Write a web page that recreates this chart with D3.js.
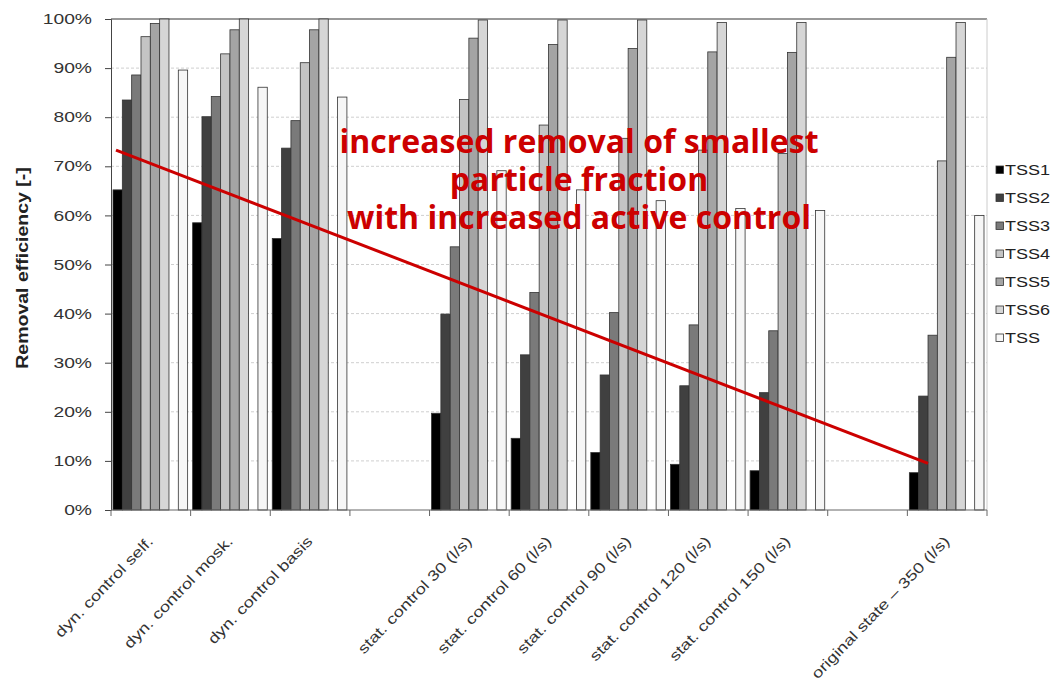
<!DOCTYPE html>
<html>
<head>
<meta charset="utf-8">
<script src="https://cdn.jsdelivr.net/npm/d3@7"></script>
<style>
  body { margin: 0; background: #fff; }
</style>
</head>
<body>
<div id="chart"></div>
<script>
// categories (two empty slots keep the gaps between the groups)
const categories = ['dyn. control self.', 'dyn. control mosk.', 'dyn. control basis', ' ',
  'stat. control 30 (l/s)', 'stat. control 60 (l/s)', 'stat. control 90 (l/s)',
  'stat. control 120 (l/s)', 'stat. control 150 (l/s)', '  ', 'original state \u2013 350 (l/s)'];
const series = ['TSS1', 'TSS2', 'TSS3', 'TSS4', 'TSS5', 'TSS6', 'TSS'];
const seriesColors = ['#000000', '#404040', '#7a7a7a', '#c4c4c4', '#a4a4a4', '#d6d6d6', '#f6f6f6'];
// values in %, one row per category, columns follow `series`
const values = [
  [65.2, 83.5, 88.6, 96.4, 99.1, 100, 89.6],
  [58.5, 80.1, 84.2, 92.9, 97.8, 100, 86.1],
  [55.3, 73.7, 79.3, 91.1, 97.8, 100, 84.1],
  null,
  [19.7, 39.9, 53.6, 83.6, 96.1, 99.8, 69.1],
  [14.6, 31.6, 44.3, 78.4, 94.8, 99.8, 65.2],
  [11.7, 27.5, 40.2, 75.7, 94.0, 99.8, 63.0],
  [9.3, 25.3, 37.7, 73.3, 93.3, 99.3, 61.4],
  [8.0, 23.9, 36.5, 72.6, 93.2, 99.3, 61.0],
  null,
  [7.6, 23.2, 35.6, 71.1, 92.2, 99.3, 60.0]
];
const yTicks = [0, 10, 20, 30, 40, 50, 60, 70, 80, 90, 100];
// trend annotation: [category, value %]
const trendStart = ['dyn. control self.', 73.3];
const trendEnd = ['original state \u2013 350 (l/s)', 9.5];
const noteLines = ['increased removal of smallest', 'particle fraction', 'with increased active control'];

const W = 1055, H = 684;
const margin = { top: 19, right: 68, bottom: 174, left: 111 };
const iw = W - margin.left - margin.right;
const ih = H - margin.top - margin.bottom;
const SANS = '"Liberation Sans", Arial, sans-serif';
const STRETCH = 1.33; // the original lettering is drawn wide

const svg = d3.select('#chart').append('svg')
  .attr('width', W).attr('height', H)
  .attr('font-family', SANS);
const g = svg.append('g').attr('transform', `translate(${margin.left},${margin.top})`);

const x0 = d3.scaleBand().domain(categories).range([0, iw]).padding(0);
// 8 slots per group, the 7th is left empty as in the original
const x1 = d3.scaleBand().domain(['TSS1', 'TSS2', 'TSS3', 'TSS4', 'TSS5', 'TSS6', 'gap', 'TSS'])
  .range([2, x0.bandwidth() - 3]).padding(0);
const y = d3.scaleLinear().domain([0, 100]).range([ih, 0]);
const color = d3.scaleOrdinal().domain(series).range(seriesColors);

// grid
g.append('g').selectAll('line')
  .data(yTicks.filter(t => t > 0 && t < 100))
  .enter().append('line')
    .attr('x1', 0).attr('x2', iw)
    .attr('y1', d => y(d)).attr('y2', d => y(d))
    .attr('stroke', '#cfcfcf')
    .attr('stroke-dasharray', '3,2');
g.append('line')
  .attr('x1', 0).attr('x2', iw).attr('y1', y(100)).attr('y2', y(100))
  .attr('stroke', '#777').attr('stroke-width', 1.5);
g.append('line')
  .attr('x1', iw).attr('x2', iw).attr('y1', 0).attr('y2', ih)
  .attr('stroke', '#ccc');

// bars
const rows = categories.map((c, i) => ({ cat: c, vals: values[i] })).filter(d => d.vals);
g.append('g').selectAll('g')
  .data(rows)
  .enter().append('g')
    .attr('transform', d => `translate(${x0(d.cat)},0)`)
  .selectAll('rect')
  .data(d => d.vals.map((v, i) => ({ key: series[i], v })))
  .enter().append('rect')
    .attr('x', d => x1(d.key))
    .attr('y', d => y(d.v))
    .attr('width', x1.bandwidth())
    .attr('height', d => ih - y(d.v))
    .attr('fill', d => color(d.key))
    .attr('stroke', '#333')
    .attr('stroke-width', 0.8);

// y axis
const yAxis = g.append('g')
  .call(d3.axisLeft(y).tickValues(yTicks).tickFormat(d => d + '%').tickSizeOuter(0).tickSize(6));
yAxis.select('.domain').attr('stroke', '#444');
yAxis.selectAll('.tick line').attr('stroke', '#444');
yAxis.selectAll('text')
  .attr('x', null)
  .attr('transform', `translate(-19,0) scale(${STRETCH},1)`)
  .attr('font-size', 14.5)
  .attr('fill', '#333')
  .attr('font-family', SANS);

// x axis: ticks at category boundaries
const xAxis = g.append('g').attr('transform', `translate(0,${ih})`);
xAxis.append('line').attr('x1', 0).attr('x2', iw).attr('stroke', '#666');
xAxis.selectAll('line.tk')
  .data(categories.map(c => x0(c)).concat([iw]))
  .enter().append('line')
    .attr('class', 'tk')
    .attr('x1', d => d).attr('x2', d => d)
    .attr('y1', 0).attr('y2', 6)
    .attr('stroke', '#666');
xAxis.selectAll('text')
  .data(categories.filter(c => c.trim()))
  .enter().append('text')
    .attr('transform', d => `translate(${x0(d) + x0.bandwidth() / 2 - 4},${25}) rotate(-46) scale(1.27,1)`)
    .attr('text-anchor', 'end')
    .attr('dy', '0.7em')
    .attr('font-size', 14.5)
    .attr('fill', '#333')
    .text(d => d);

// y title
svg.append('text')
  .attr('transform', `translate(28,268) rotate(-90) scale(1.22,1)`)
  .attr('text-anchor', 'middle')
  .attr('font-size', 16)
  .attr('font-weight', 'bold')
  .attr('fill', '#222')
  .text('Removal efficiency [-]');

// legend
const legend = svg.append('g').attr('transform', 'translate(996,170)');
legend.selectAll('g')
  .data(series)
  .enter().append('g')
    .attr('transform', (d, i) => `translate(0,${i * 28})`)
    .call(s => {
      s.append('rect')
        .attr('x', 0).attr('y', -4).attr('width', 7.5).attr('height', 7.5)
        .attr('fill', d => color(d))
        .attr('stroke', '#333').attr('stroke-width', 0.8);
      s.append('text')
        .attr('transform', 'translate(9,0) scale(1.2,1)')
        .attr('dy', '0.36em')
        .attr('font-size', 15)
        .attr('fill', '#222')
        .text(d => d);
    });

// red trend annotation
g.append('line')
  .attr('x1', x0(trendStart[0]) + 5)
  .attr('y1', y(trendStart[1]))
  .attr('x2', x0(trendEnd[0]) + x1('TSS2') + x1.bandwidth())
  .attr('y2', y(trendEnd[1]))
  .attr('stroke', '#cc0000')
  .attr('stroke-width', 3);

svg.append('g').selectAll('text')
  .data(noteLines)
  .enter().append('text')
    .attr('x', 579)
    .attr('y', (d, i) => 153 + i * 38)
    .attr('text-anchor', 'middle')
    .style('font-family', '"Open Sans", "Noto Sans", sans-serif')
    .style('font-weight', 'bold')
    .style('font-size', '32px')
    .attr('fill', '#cc0000')
    .text(d => d);
</script>
</body>
</html>
